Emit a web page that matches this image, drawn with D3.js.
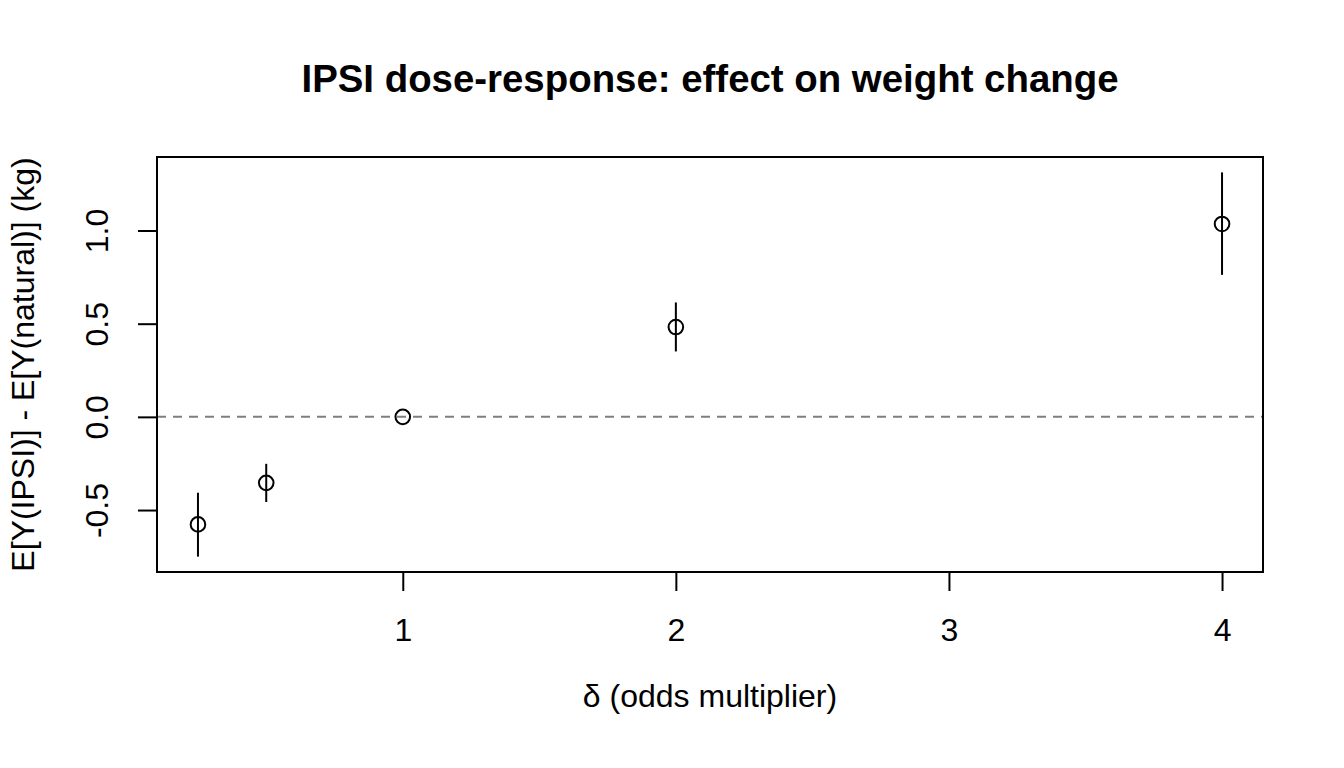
<!DOCTYPE html>
<html>
<head>
<meta charset="utf-8">
<script src="https://cdn.jsdelivr.net/npm/d3@7"></script>
<style>
  html, body { margin: 0; padding: 0; background: #fff; }
  svg { display: block; font-family: "Liberation Sans", Arial, Helvetica, sans-serif; }
</style>
</head>
<body>
<script>
// ---- Data ----
const deltas = [0.25, 0.5, 1, 2, 4];
const estimates = [-0.577, -0.354, 0, 0.482, 1.035];
const lower = [-0.750, -0.457, 0, 0.351, 0.762];
const upper = [-0.407, -0.252, 0, 0.614, 1.312];
const xTicks = [1, 2, 3, 4];
const yTicks = [-0.5, 0, 0.5, 1.0];
const titleText = "IPSI dose-response: effect on weight change";
const xLabel = "δ (odds multiplier)";
const yLabel = "E[Y(IPSI)] - E[Y(natural)] (kg)";

const W = 1344, H = 768;
const mLeft = 157, mRight = 1263, mTop = 157, mBottom = 572;
const axisFont = 32, titleFont = 38.4;

const svg = d3.select("body").append("svg").attr("width", W).attr("height", H);

function pad(ext) { const d = ext[1] - ext[0]; return [ext[0] - 0.04 * d, ext[1] + 0.04 * d]; }
const x = d3.scaleLinear().domain(pad(d3.extent(deltas))).range([mLeft, mRight]);
const y = d3.scaleLinear().domain(pad([d3.min(lower), d3.max(upper)])).range([mBottom, mTop]);

const pts = deltas.map((d, i) => ({ d, est: estimates[i], lo: lower[i], hi: upper[i] }));

// dashed zero line
svg.append("line")
  .attr("x1", mLeft).attr("x2", mRight)
  .attr("y1", y(0)).attr("y2", y(0))
  .attr("stroke", "#7f7f7f").attr("stroke-width", 2)
  .attr("stroke-dasharray", "9,7");

// error bars
svg.append("g").selectAll("line").data(pts.filter(p => p.hi > p.lo)).join("line")
  .attr("x1", p => x(p.d)).attr("x2", p => x(p.d))
  .attr("y1", p => y(p.lo)).attr("y2", p => y(p.hi))
  .attr("stroke", "#000").attr("stroke-width", 2);

// points
svg.append("g").selectAll("circle").data(pts).join("circle")
  .attr("cx", p => x(p.d)).attr("cy", p => y(p.est))
  .attr("r", 7.3).attr("fill", "none").attr("stroke", "#000").attr("stroke-width", 2);

// box
svg.append("rect").attr("x", mLeft).attr("y", mTop)
  .attr("width", mRight - mLeft).attr("height", mBottom - mTop)
  .attr("fill", "none").attr("stroke", "#000").attr("stroke-width", 2);

// x axis
const xAxis = d3.axisBottom(x).tickValues(xTicks).tickSize(19).tickPadding(0).tickFormat(d3.format("d"));
const gx = svg.append("g").attr("transform", `translate(0,${mBottom})`).call(xAxis);
gx.attr("font-family", null).attr("font-size", null);
gx.select(".domain").remove();
gx.selectAll(".tick line").attr("stroke", "#000").attr("stroke-width", 2);
gx.selectAll(".tick text").attr("font-size", axisFont).attr("fill", "#000")
  .attr("dy", null).attr("y", 69);

// y axis (R style hyphen-minus)
const fmtY = v => d3.format(".1f")(v).replace("\u2212", "-");
const yAxis = d3.axisLeft(y).tickValues(yTicks).tickSize(19).tickPadding(0).tickFormat(fmtY);
const gy = svg.append("g").attr("transform", `translate(${mLeft},0)`).call(yAxis);
gy.attr("font-family", null).attr("font-size", null);
gy.select(".domain").remove();
gy.selectAll(".tick line").attr("stroke", "#000").attr("stroke-width", 2);
gy.selectAll(".tick text")
  .attr("font-size", axisFont).attr("fill", "#000")
  .attr("x", null).attr("dy", null)
  .attr("text-anchor", "middle")
  .attr("transform", "translate(-49,0) rotate(-90)");

// title
svg.append("text").attr("x", (mLeft + mRight) / 2).attr("y", 92)
  .attr("text-anchor", "middle").attr("font-size", titleFont).attr("font-weight", "bold")
  .text(titleText);

// x label
svg.append("text").attr("x", (mLeft + mRight) / 2).attr("y", 707)
  .attr("text-anchor", "middle").attr("font-size", axisFont)
  .text(xLabel);

// y label
svg.append("text")
  .attr("transform", `translate(34,${(mTop + mBottom) / 2}) rotate(-90)`)
  .attr("text-anchor", "middle").attr("font-size", axisFont)
  .text(yLabel);
</script>
</body>
</html>
